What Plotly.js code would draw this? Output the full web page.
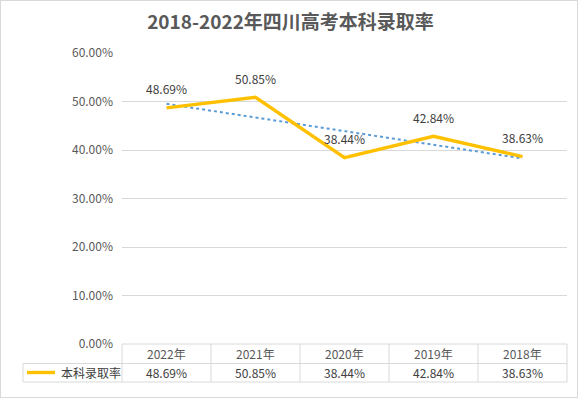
<!DOCTYPE html>
<html><head><meta charset="utf-8">
<script src="https://cdn.plot.ly/plotly-3.0.1.min.js"></script>
<style>
html,body{margin:0;padding:0;background:#fff;}
#frame{position:absolute;left:0;top:0;width:578px;height:398px;border:1px solid #d9d9d9;box-sizing:border-box;}
#chart{position:absolute;left:0;top:0;width:581px;height:399px;}
</style></head>
<body>
<div id="frame"></div>
<div id="chart"></div>
<script>
const categories = ["2022年","2021年","2020年","2019年","2018年"];
const rates = [48.69, 50.85, 38.44, 42.84, 38.63];
const seriesName = "本科录取率";
const yTicks = [0, 10, 20, 30, 40, 50, 60];

const FONT = '"Noto Sans CJK SC", "Microsoft YaHei", sans-serif';
const fmt = v => v.toFixed(2) + '%';

// linear trendline (least squares over category index)
const n = rates.length;
const xs = rates.map((_, i) => i + 1);
const mx = xs.reduce((a, b) => a + b, 0) / n;
const my = rates.reduce((a, b) => a + b, 0) / n;
let sxy = 0, sxx = 0;
xs.forEach((x, i) => { sxy += (x - mx) * (rates[i] - my); sxx += (x - mx) * (x - mx); });
const slope = sxy / sxx;
const trend = xs.map(x => my + slope * (x - mx));

const traces = [
  {
    x: categories, y: trend, type: 'scatter', mode: 'lines',
    line: {color: '#5B9BD5', width: 2, dash: 'dot'},
    hoverinfo: 'skip', showlegend: false
  },
  {
    x: categories, y: rates, type: 'scatter', mode: 'lines',
    name: seriesName,
    line: {color: '#FFC000', width: 3.4},
    showlegend: false, cliponaxis: false
  }
];

// plot area geometry in pixels
const L = 122, R = 567, T = 53, B = 344;
const W = R - L, H = B - T;
const px = x => (x - L) / W;
const py = y => (B - y) / H;

const rowTop = 344, rowMid = 363.5, rowBot = 382;
const legendLeft = 23;
const lineColor = '#d9d9d9';

const shapes = [];
shapes.push({type:'line', xref:'paper', yref:'paper', x0:px(L), x1:px(R), y0:py(rowTop), y1:py(rowTop), line:{color:lineColor, width:1}});
shapes.push({type:'line', xref:'paper', yref:'paper', x0:px(legendLeft), x1:px(R), y0:py(rowMid), y1:py(rowMid), line:{color:lineColor, width:1}});
shapes.push({type:'line', xref:'paper', yref:'paper', x0:px(legendLeft), x1:px(R), y0:py(rowBot), y1:py(rowBot), line:{color:lineColor, width:1}});
for (let i = 0; i <= categories.length; i++) {
  shapes.push({type:'line', xref:'paper', yref:'paper', x0:i/categories.length, x1:i/categories.length, y0:py(rowTop), y1:py(rowBot), line:{color:lineColor, width:1}});
}
shapes.push({type:'line', xref:'paper', yref:'paper', x0:px(legendLeft), x1:px(legendLeft), y0:py(rowMid), y1:py(rowBot), line:{color:lineColor, width:1}});
shapes.push({type:'line', xref:'paper', yref:'paper', x0:px(27), x1:px(55), y0:py(372.5), y1:py(372.5), line:{color:'#FFC000', width:3.4}});

const annotations = [];
categories.forEach((c, i) => {
  // data label above point
  annotations.push({xref:'x', yref:'y', x:c, y:rates[i], yshift:19, text:fmt(rates[i]), showarrow:false,
    font:{family:FONT, size:12, color:'#404040'}, xanchor:'center', yanchor:'middle'});
  // table header
  annotations.push({xref:'x', yref:'paper', x:c, y:py((rowTop+rowMid)/2), text:c, showarrow:false,
    font:{family:FONT, size:12, color:'#595959'}, xanchor:'center', yanchor:'middle'});
  // table value
  annotations.push({xref:'x', yref:'paper', x:c, y:py((rowMid+rowBot)/2), text:fmt(rates[i]), showarrow:false,
    font:{family:FONT, size:12, color:'#404040'}, xanchor:'center', yanchor:'middle'});
});
annotations.push({xref:'paper', yref:'paper', x:px(59), y:py((rowMid+rowBot)/2), text:seriesName, showarrow:false,
  font:{family:FONT, size:12, color:'#404040'}, xanchor:'left', yanchor:'middle'});

const layout = {
  width: 581, height: 399,
  margin: {l: L, r: 581 - R, t: T, b: 399 - B},
  paper_bgcolor: 'rgba(0,0,0,0)', plot_bgcolor: 'rgba(0,0,0,0)',
  title: {text: '2018-2022年四川高考本科录取率', x: 0.5, xanchor: 'center', y: 0.945, yanchor: 'middle',
    font: {family: FONT, size: 19, color: '#595959', weight: 'bold'}},
  xaxis: {type: 'category', range: [-0.5, categories.length - 0.5], showticklabels: false,
    showgrid: false, zeroline: false, showline: false, ticks: '', fixedrange: true},
  yaxis: {range: [0, 60], tickvals: yTicks, ticktext: yTicks.map(fmt),
    showgrid: true, gridcolor: lineColor, gridwidth: 1, zeroline: false, showline: false, ticks: '',
    ticklabelstandoff: 8,
    tickfont: {family: FONT, size: 12, color: '#595959'}, fixedrange: true},
  shapes: shapes,
  annotations: annotations,
  showlegend: false
};

Plotly.newPlot('chart', traces, layout, {staticPlot: true, displayModeBar: false});
</script>
</body></html>
